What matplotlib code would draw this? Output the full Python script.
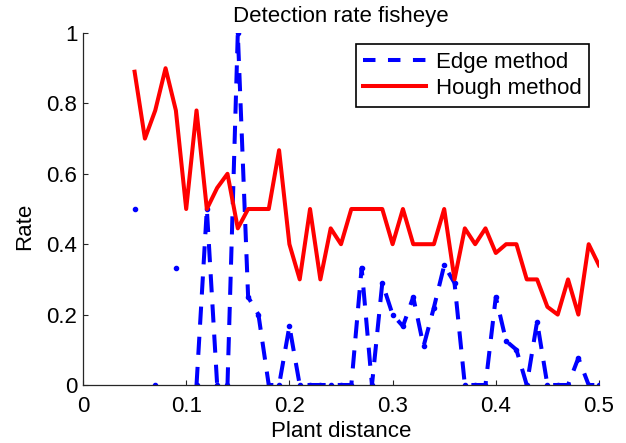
import numpy as np
import matplotlib
matplotlib.use('Agg')
import matplotlib.pyplot as plt

# --- font setup ---
plt.rcParams['font.family'] = ['Liberation Sans Narrow', 'Liberation Sans', 'DejaVu Sans']

# --- data ---
plant_distance = [0.05, 0.06, 0.07, 0.08, 0.09, 0.10, 0.11, 0.12, 0.13, 0.14,
                  0.15, 0.16, 0.17, 0.18, 0.19, 0.20, 0.21, 0.22, 0.23, 0.24,
                  0.25, 0.26, 0.27, 0.28, 0.29, 0.30, 0.31, 0.32, 0.33, 0.34,
                  0.35, 0.36, 0.37, 0.38, 0.39, 0.40, 0.41, 0.42, 0.43, 0.44,
                  0.45, 0.46, 0.47, 0.48, 0.49, 0.50]

# edge method has gaps (nan) at a few distances
edge_rate = [0.50, np.nan, 0.0, np.nan, 0.333, np.nan, 0.0, 0.50, 0.0, 0.0,
             1.00, 0.25, 0.20, 0.0, 0.0, 0.167, 0.0, 0.0, 0.0, 0.0,
             0.0, 0.0, 0.333, 0.0, 0.29, 0.20, 0.167, 0.25, 0.11, 0.22,
             0.34, 0.29, 0.0, 0.0, 0.0, 0.25, 0.125, 0.10, 0.0, 0.18,
             0.0, 0.0, 0.0, 0.077, 0.0, 0.0]

hough_rate = [0.89, 0.70, 0.78, 0.90, 0.78, 0.50, 0.78, 0.50, 0.56, 0.60,
              0.445, 0.50, 0.50, 0.50, 0.667, 0.40, 0.30, 0.50, 0.30, 0.445,
              0.40, 0.50, 0.50, 0.50, 0.50, 0.40, 0.50, 0.40, 0.40, 0.40,
              0.50, 0.30, 0.445, 0.40, 0.445, 0.375, 0.40, 0.40, 0.30, 0.30,
              0.222, 0.20, 0.30, 0.20, 0.40, 0.34]

series_labels = ['Edge method', 'Hough method']
x_ticks = [0, 0.1, 0.2, 0.3, 0.4, 0.5]
x_tick_labels = ['0', '0.1', '0.2', '0.3', '0.4', '0.5']
y_ticks = [0, 0.2, 0.4, 0.6, 0.8, 1.0]
y_tick_labels = ['0', '0.2', '0.4', '0.6', '0.8', '1']

# --- plotting ---
fig = plt.figure(figsize=(6.26, 4.43), dpi=100)
ax = fig.add_axes([83 / 626, 58 / 443, 516 / 626, 352 / 443])

edge_line, = ax.plot(plant_distance, edge_rate, color='#0000ff', linestyle='--',
                     linewidth=2.9, marker='.', markersize=6,
                     dashes=(4.5, 3), label=series_labels[0])
hough_line, = ax.plot(plant_distance, hough_rate, color='#ff0000', linestyle='-',
                      linewidth=2.9, label=series_labels[1])

ax.set_xlim(0, 0.5)
ax.set_ylim(0, 1)
ax.set_xticks(x_ticks)
ax.set_xticklabels(x_tick_labels)
ax.set_yticks(y_ticks)
ax.set_yticklabels(y_tick_labels)

# MATLAB look: box off, inward ticks
ax.spines['top'].set_visible(False)
ax.spines['right'].set_visible(False)
for side in ['left', 'bottom']:
    ax.spines[side].set_linewidth(0.9)
    ax.spines[side].set_color('#262626')
ax.tick_params(direction='in', length=3.6, width=0.8, colors='#262626',
               labelcolor='black', labelsize=16, pad=4)
ax.tick_params(axis='x', pad=8)

ax.set_title('Detection rate fisheye', fontsize=16, pad=8)
ax.set_xlabel('Plant distance', fontsize=16, labelpad=3)
ax.set_ylabel('Rate', fontsize=16)
ax.yaxis.set_label_coords(-0.092, 0.45)

leg = ax.legend(loc='upper right', bbox_to_anchor=(0.981, 0.969),
                borderaxespad=0, fontsize=16, handlelength=2.8,
                handletextpad=0.45, borderpad=0.35, labelspacing=0.25,
                fancybox=False, edgecolor='black', framealpha=1)
leg.get_frame().set_linewidth(1.2)
# legend dashes look shorter than the ones in the plot
leg.get_lines()[0].set_dashes((3.1, 3.1))
leg.get_lines()[0].set_marker('')

fig.savefig('out.png', dpi=100)
